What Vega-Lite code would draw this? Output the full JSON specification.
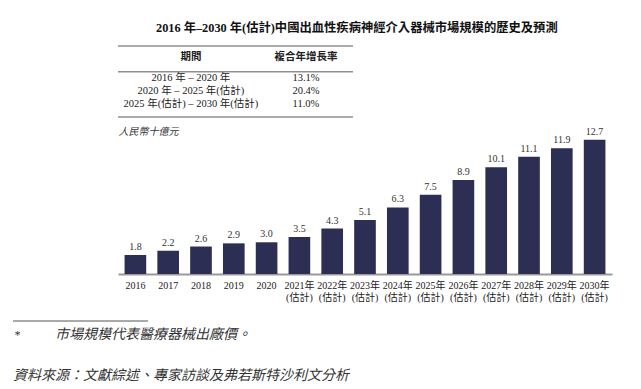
{
  "$schema": "https://vega.github.io/schema/vega-lite/v6.json",
  "background": "white",
  "padding": {"left": 12, "top": 21, "right": 5, "bottom": 0},
  "config": {"view": {"stroke": null}, "font": "Liberation Serif, Noto Sans CJK TC"},
  "title": {
    "text": "2016 年–2030 年(估計)中國出血性疾病神經介入器械市場規模的歷史及預測",
    "anchor": "start", "frame": "group", "dx": 38, "offset": 11,
    "font": "Liberation Serif, Noto Sans CJK TC", "fontSize": 12.3, "fontWeight": "bold", "color": "#111"
  },
  "spacing": 8,
  "vconcat": [
    {
      "width": 235, "height": 71,
      "encoding": {
        "y": {"field": "row", "type": "nominal", "scale": {"type": "point", "padding": 0, "domain": ["top", "_a", "h", "_b", "mid", "r1", "_c", "r2", "_d", "r3", "_e", "bottom"]}, "axis": null}
      },
      "layer": [
        {
          "data": {"values": [{"row": "top"}, {"row": "mid"}, {"row": "bottom"}]},
          "mark": {"type": "rule", "color": "#8f8f8f", "strokeWidth": 1.5}
        },
        {
          "data": {"values": [
            {"row": "h", "column": "期間", "text": "期間"},
            {"row": "h", "column": "複合年增長率", "text": "複合年增長率"}
          ]},
          "mark": {"type": "text", "fontWeight": "bold", "fontSize": 10.5, "color": "#222", "dy": -1.5},
          "encoding": {
            "x": {"field": "column", "type": "nominal", "scale": {"type": "point", "domain": ["期間", "複合年增長率"], "padding": 0.5217, "align": 0.608}, "axis": null},
            "text": {"field": "text"}
          }
        },
        {
          "data": {"values": [
            {"row": "r1", "column": "期間", "text": "2016 年 – 2020 年"},
            {"row": "r1", "column": "複合年增長率", "text": "13.1%"},
            {"row": "r2", "column": "期間", "text": "2020 年 – 2025 年(估計)"},
            {"row": "r2", "column": "複合年增長率", "text": "20.4%"},
            {"row": "r3", "column": "期間", "text": "2025 年(估計) – 2030 年(估計)"},
            {"row": "r3", "column": "複合年增長率", "text": "11.0%"}
          ]},
          "mark": {"type": "text", "fontSize": 10.5, "color": "#222"},
          "encoding": {
            "x": {"field": "column", "type": "nominal", "scale": {"type": "point", "domain": ["期間", "複合年增長率"], "padding": 0.5217, "align": 0.608}, "axis": null},
            "text": {"field": "text"}
          }
        }
      ]
    },
    {
      "width": 494, "height": 148,
      "data": {"values": [
        {"year": "2016", "value": 1.8},
        {"year": "2017", "value": 2.2},
        {"year": "2018", "value": 2.6},
        {"year": "2019", "value": 2.9},
        {"year": "2020", "value": 3.0},
        {"year": "2021年 (估計)", "value": 3.5},
        {"year": "2022年 (估計)", "value": 4.3},
        {"year": "2023年 (估計)", "value": 5.1},
        {"year": "2024年 (估計)", "value": 6.3},
        {"year": "2025年 (估計)", "value": 7.5},
        {"year": "2026年 (估計)", "value": 8.9},
        {"year": "2027年 (估計)", "value": 10.1},
        {"year": "2028年 (估計)", "value": 11.1},
        {"year": "2029年 (估計)", "value": 11.9},
        {"year": "2030年 (估計)", "value": 12.7}
      ]},
      "encoding": {
        "x": {
          "field": "year", "type": "nominal", "sort": null,
          "scale": {"paddingInner": 0.34, "paddingOuter": 0.2},
          "axis": {
            "title": null, "labelAngle": 0, "ticks": false, "domainColor": "#999999", "domainWidth": 2,
            "labelPadding": 6, "labelFontSize": 10, "labelColor": "#222", "labelLineHeight": 12,
            "labelBaseline": "top", "labelOverlap": false,
            "labelExpr": "split(datum.label, ' ')"
          }
        },
        "y": {
          "field": "value", "type": "quantitative",
          "scale": {"domain": [0, 14], "nice": false},
          "axis": {
            "title": "人民幣十億元", "labels": false, "ticks": false, "domain": false, "grid": false,
            "titleAngle": 0, "titleAlign": "left", "titleX": 0, "titleY": 5, "titleBaseline": "middle",
            "titleFontStyle": "italic", "titleFontWeight": "normal", "titleFontSize": 10, "titleColor": "#333"
          }
        }
      },
      "layer": [
        {"mark": {"type": "bar", "color": "#2d2e54"}},
        {
          "mark": {"type": "text", "baseline": "bottom", "dy": -3, "fontSize": 10, "color": "#333"},
          "encoding": {"text": {"field": "value", "type": "quantitative", "format": ".1f"}}
        }
      ]
    },
    {
      "width": 494, "height": 77,
      "data": {"values": [
        {"row": "rule"},
        {"row": "note", "marker": "*", "text": "市場規模代表醫療器械出廠價。"},
        {"row": "source", "text": "資料來源：文獻綜述、專家訪談及弗若斯特沙利文分析"}
      ]},
      "encoding": {
        "y": {"field": "row", "type": "nominal", "scale": {"type": "point", "domain": ["rule", "note", "_1", "_2", "source"], "padding": 0.8}, "axis": null}
      },
      "layer": [
        {
          "transform": [{"filter": "datum.row === 'rule'"}],
          "mark": {"type": "rule", "color": "#555", "strokeWidth": 1},
          "encoding": {"x": {"value": -105}, "x2": {"value": 30}}
        },
        {
          "transform": [{"filter": "datum.row === 'note'"}],
          "mark": {"type": "text", "align": "left", "fontSize": 12, "fontStyle": "italic", "color": "#333", "x": -104},
          "encoding": {"text": {"field": "marker"}}
        },
        {
          "transform": [{"filter": "datum.row === 'note'"}],
          "mark": {"type": "text", "align": "left", "fontSize": 14, "fontStyle": "italic", "color": "#333", "x": -63},
          "encoding": {"text": {"field": "text"}}
        },
        {
          "transform": [{"filter": "datum.row === 'source'"}],
          "mark": {"type": "text", "align": "left", "fontSize": 14, "fontStyle": "italic", "color": "#333", "x": -105},
          "encoding": {"text": {"field": "text"}}
        }
      ]
    }
  ]
}
